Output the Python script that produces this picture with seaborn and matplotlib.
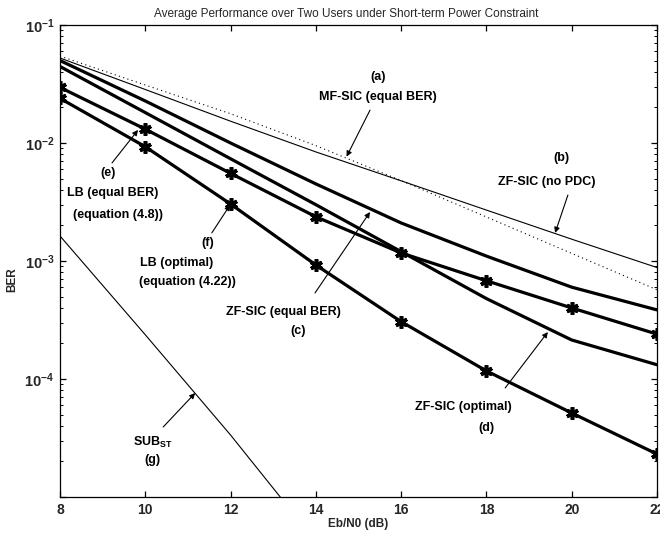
import numpy as np
import pandas as pd
import seaborn as sns
import matplotlib
matplotlib.use("Agg")
import matplotlib.pyplot as plt
from matplotlib.ticker import FixedLocator, FixedFormatter, LogLocator, NullFormatter

# Eb/N0 grid (dB)
ebn0 = [8, 10, 12, 14, 16, 18, 20, 22]

# (a) MF-SIC, equal BER (dotted)
ber_mf_sic = [5.45e-2, 3.1e-2, 1.77e-2, 9.5e-3, 4.8e-3, 2.36e-3, 1.16e-3, 5.7e-4]
# (b) ZF-SIC without power distribution control (thin solid)
ber_zf_nopdc = [5.25e-2, 2.84e-2, 1.53e-2, 8.4e-3, 4.78e-3, 2.7e-3, 1.53e-3, 8.8e-4]
# (c) ZF-SIC, equal BER
ber_zf_equal = [5.0e-2, 2.27e-2, 1.0e-2, 4.5e-3, 2.1e-3, 1.1e-3, 6.0e-4, 3.85e-4]
# (d) ZF-SIC, optimal
ber_zf_opt = [4.45e-2, 1.81e-2, 7.35e-3, 3.0e-3, 1.2e-3, 4.8e-4, 2.14e-4, 1.32e-4]
# (e) lower bound, equal BER (eq. 4.8)
ber_lb_equal = [2.96e-2, 1.31e-2, 5.53e-3, 2.37e-3, 1.17e-3, 6.8e-4, 4.0e-4, 2.4e-4]
# (f) lower bound, optimal (eq. 4.22)
ber_lb_opt = [2.39e-2, 9.3e-3, 3.04e-3, 9.25e-4, 3.06e-4, 1.17e-4, 5.15e-5, 2.31e-5]
# (g) single-user bound, short-term constraint
ebn0_sub = [8, 10, 12, 14]
ber_sub_st = [1.63e-3, 2.37e-4, 3.35e-5, 4.2e-6]

y_ticks = [1e-5, 1e-4, 1e-3, 1e-2, 1e-1]
y_tick_labels = ["", r"$\mathbf{10^{-4}}$", r"$\mathbf{10^{-3}}$",
                 r"$\mathbf{10^{-2}}$", r"$\mathbf{10^{-1}}$"]
x_ticks = [8, 10, 12, 14, 16, 18, 20, 22]

sns.set_theme(style="white")
plt.rcParams["font.family"] = ["Liberation Sans", "DejaVu Sans"]
plt.rcParams["mathtext.fontset"] = "custom"
plt.rcParams["mathtext.rm"] = "Liberation Sans"
plt.rcParams["mathtext.bf"] = "Liberation Sans:bold"

fig = plt.figure(figsize=(6.6, 5.34), dpi=100)
ax = fig.add_axes([0.0909, 0.0693, 0.9955 - 0.0909, 0.9532 - 0.0693])

thick = 2.3
thin = 0.8
star = dict(marker=(6, 2, 0), markersize=9, markeredgewidth=2.6,
            markeredgecolor="black", markerfacecolor="black")

sns.lineplot(x=ebn0, y=ber_mf_sic, ax=ax, color="black", lw=thin,
             linestyle=(0, (1, 3)), estimator=None)
sns.lineplot(x=ebn0, y=ber_zf_nopdc, ax=ax, color="black", lw=thin, estimator=None)
sns.lineplot(x=ebn0, y=ber_zf_equal, ax=ax, color="black", lw=thick, estimator=None)
sns.lineplot(x=ebn0, y=ber_zf_opt, ax=ax, color="black", lw=thick, estimator=None)
sns.lineplot(x=ebn0, y=ber_lb_equal, ax=ax, color="black", lw=thick,
             estimator=None, **star)
sns.lineplot(x=ebn0, y=ber_lb_opt, ax=ax, color="black", lw=thick,
             estimator=None, **star)
sns.lineplot(x=ebn0_sub, y=ber_sub_st, ax=ax, color="black", lw=thin, estimator=None)

ax.set_yscale("log")
ax.set_xlim(8, 22)
ax.set_ylim(1e-5, 1e-1)

ax.xaxis.set_major_locator(FixedLocator(x_ticks))
ax.set_xticklabels([str(v) for v in x_ticks], fontweight="bold", fontsize=10)
ax.yaxis.set_major_locator(FixedLocator(y_ticks))
ax.yaxis.set_major_formatter(FixedFormatter(y_tick_labels))
ax.yaxis.set_minor_locator(LogLocator(base=10, subs=np.arange(2, 10), numticks=20))
ax.yaxis.set_minor_formatter(NullFormatter())
for lbl in ax.get_yticklabels():
    lbl.set_fontsize(10.5)

ax.tick_params(which="both", direction="in", top=True, right=True,
               bottom=True, left=True, color="black")
ax.tick_params(which="major", length=4.5, width=0.9, pad=4)
ax.tick_params(which="minor", length=2.2, width=0.7)
for s in ax.spines.values():
    s.set_color("black")
    s.set_linewidth(0.9)

ax.set_xlabel("Eb/N0 (dB)", fontsize=8.5, fontweight="bold", labelpad=1)
ax.set_ylabel("BER", fontsize=8.5, fontweight="bold")
ax.yaxis.set_label_coords(-0.07, 0.46)
ax.set_title("Average Performance over Two Users under Short-term Power Constraint",
             fontsize=8.5, pad=6, x=0.48)

txt = dict(fontsize=9, fontweight="bold", ha="center", va="center", color="black")
arrow = dict(arrowstyle="-|>", lw=0.8, color="black", mutation_scale=8,
             shrinkA=0, shrinkB=0)

# (a)
ax.text(15.46, 3.62e-2, "(a)", **txt)
ax.text(15.46, 2.46e-2, "MF-SIC (equal BER)", **txt)
ax.annotate("", xy=(14.72, 7.66e-3), xytext=(15.27, 1.9e-2), arrowprops=arrow)
# (b)
ax.text(19.77, 7.46e-3, "(b)", **txt)
ax.text(19.42, 4.67e-3, "ZF-SIC (no PDC)", **txt)
ax.annotate("", xy=(19.61, 1.73e-3), xytext=(19.91, 3.62e-3), arrowprops=arrow)
# (e)
ax.text(9.13, 5.57e-3, "(e)", **txt)
ax.text(9.24, 3.77e-3, "LB (equal BER)", **txt)
ax.text(9.36, 2.45e-3, "(equation (4.8))", **txt)
ax.annotate("", xy=(9.83, 1.29e-2), xytext=(9.22, 6.78e-3), arrowprops=arrow)
# (f)
ax.text(11.47, 1.42e-3, "(f)", **txt)
ax.text(10.74, 9.6e-4, "LB (optimal)", **txt)
ax.text(10.98, 6.64e-4, "(equation (4.22))", **txt)
ax.annotate("", xy=(11.99, 2.99e-3), xytext=(11.56, 1.73e-3), arrowprops=arrow)
# (c)
ax.text(13.23, 3.7e-4, "ZF-SIC (equal BER)", **txt)
ax.text(13.58, 2.55e-4, "(c)", **txt)
ax.annotate("", xy=(15.27, 2.6e-3), xytext=(13.98, 5.36e-4), arrowprops=arrow)
# (d)
ax.text(17.45, 5.8e-5, "ZF-SIC (optimal)", **txt)
ax.text(18.01, 3.85e-5, "(d)", **txt)
ax.annotate("", xy=(19.44, 2.5e-4), xytext=(18.44, 8.4e-5), arrowprops=arrow)
# (g)
ax.text(10.18, 2.92e-5, r"SUB$_{\mathbf{ST}}$", **txt)
ax.text(10.16, 2.06e-5, "(g)", **txt)
ax.annotate("", xy=(11.17, 7.6e-5), xytext=(10.42, 3.92e-5), arrowprops=arrow)

fig.savefig("out.png", dpi=100)
